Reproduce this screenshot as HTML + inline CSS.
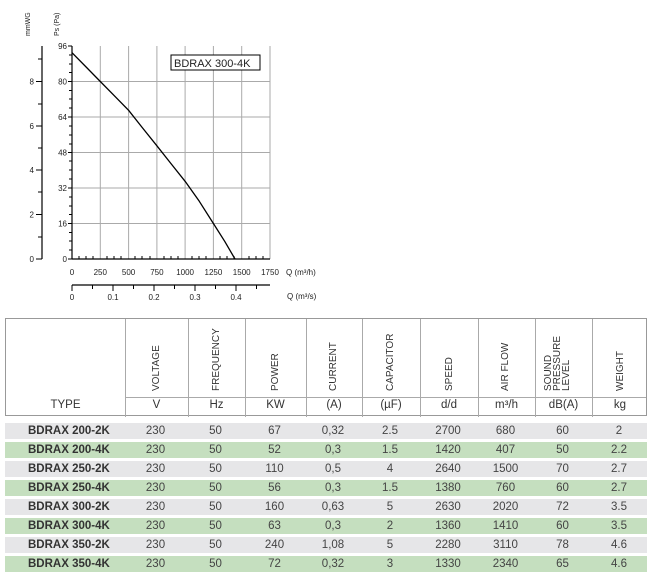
<!DOCTYPE html>
<html><head><style>
body{margin:0;width:652px;height:576px;background:#fff;position:relative;font-family:"Liberation Sans",sans-serif;overflow:hidden}
.tbl{position:absolute;left:5px;top:318px;width:642px;height:98px;border:1px solid #999;box-sizing:border-box}
.vl{position:absolute;top:0;height:98px;border-left:1px solid #aaa}
.hl{position:absolute;left:120px;right:0;top:78px;border-top:1px solid #aaa}
.vt{position:absolute;font-size:10px;color:#333;transform:rotate(-90deg);transform-origin:0 0;white-space:nowrap;line-height:10px}
.u{position:absolute;top:80px;font-size:11.5px;color:#333;text-align:center}
.row{position:absolute;left:5px;width:642px;height:16px;font-size:11.5px;color:#444;line-height:16px}
.row span{position:absolute;text-align:center}
.g{background:#e6e6e8}.gr{background:#c5dfbf}
</style></head><body>
<svg width="652" height="310" style="position:absolute;left:0;top:0" font-family="Liberation Sans" font-size="8" fill="#222">
<g stroke="#aaa" stroke-width="1">
<line x1="100.3" y1="46" x2="100.3" y2="259"/><line x1="128.6" y1="46" x2="128.6" y2="259"/><line x1="156.9" y1="46" x2="156.9" y2="259"/><line x1="185.1" y1="46" x2="185.1" y2="259"/><line x1="213.4" y1="46" x2="213.4" y2="259"/><line x1="241.7" y1="46" x2="241.7" y2="259"/><line x1="270" y1="46" x2="270" y2="259"/>
<line x1="72" y1="81.5" x2="270" y2="81.5"/><line x1="72" y1="117" x2="270" y2="117"/><line x1="72" y1="152.5" x2="270" y2="152.5"/><line x1="72" y1="188" x2="270" y2="188"/><line x1="72" y1="223.5" x2="270" y2="223.5"/>
</g>
<g stroke="#000" stroke-width="1.2">
<line x1="72" y1="46" x2="72" y2="259"/><line x1="72" y1="259" x2="270" y2="259"/>
<line x1="42" y1="46" x2="42" y2="259"/><line x1="72" y1="285" x2="270" y2="285"/>
</g>
<g stroke="#000" stroke-width="1">
<path d="M68 46h4M68 81.5h4M68 117h4M68 152.5h4M68 188h4M68 223.5h4M68 259h4"/>
<path d="M69 55h3M69 64h3M69 72.5h3M69 90.5h3M69 99h3M69 108h3M69 126h3M69 135h3M69 144h3M69 161h3M69 170h3M69 179h3M69 197h3M69 206h3M69 214.5h3M69 232.5h3M69 241h3M69 250h3"/>
<path d="M36 81.5h6M36 126h6M36 170h6M36 214.5h6M36 259h6M38 59h4M38 104h4M38 148h4M38 192h4M38 237h4"/>
<path d="M79 259v-3M86 259v-3M93 259v-3M107 259v-3M114 259v-3M121 259v-3M135 259v-3M142 259v-3M150 259v-3M164 259v-3M171 259v-3M178 259v-3M192 259v-3M199 259v-3M206 259v-3M220 259v-3M227 259v-3M234 259v-3M249 259v-3M256 259v-3M263 259v-3"/>
<path d="M72 285v6M92.5 285v4M113 285v6M133.5 285v4M154 285v6M174.5 285v4M195 285v6M215.5 285v4M236 285v6M256.5 285v4"/>
</g>
<polyline points="72,52.7 86.1,67 100.3,81.5 114.4,95.8 128.6,110.3 142.7,128.1 156.9,145.8 171,163.6 185.1,181.3 199.3,201.3 213.4,223.5 224.7,241.3 235,259" fill="none" stroke="#000" stroke-width="1.3" stroke-linejoin="round"/>
<rect x="171" y="55" width="89" height="15" fill="#fff" stroke="#000"/>
<text x="174" y="67" font-size="11">BDRAX 300-4K</text>
<g text-anchor="end">
<text x="67" y="49">96</text><text x="67" y="84.5">80</text><text x="67" y="120">64</text><text x="67" y="155.5">48</text><text x="67" y="191">32</text><text x="67" y="226.5">16</text><text x="67" y="262">0</text>
<text x="34" y="84.5">8</text><text x="34" y="129">6</text><text x="34" y="173">4</text><text x="34" y="217.5">2</text><text x="34" y="262">0</text>
</g>
<g text-anchor="middle">
<text x="72" y="275">0</text><text x="100.3" y="275">250</text><text x="128.6" y="275">500</text><text x="156.9" y="275">750</text><text x="185.1" y="275">1000</text><text x="213.4" y="275">1250</text><text x="241.7" y="275">1500</text><text x="270" y="275">1750</text>
<text x="72" y="300">0</text><text x="113" y="300">0.1</text><text x="154" y="300">0.2</text><text x="195" y="300">0.3</text><text x="236" y="300">0.4</text>
</g>
<text x="286" y="275">Q (m³/h)</text><text x="287" y="299">Q (m³/s)</text>
<text transform="translate(30,36) rotate(-90)" font-size="7">mmWG</text>
<text transform="translate(59,36) rotate(-90)" font-size="7">Ps (Pa)</text>
</svg>

<div class="tbl">
<div class="vl" style="left:119px"></div><div class="vl" style="left:182px"></div><div class="vl" style="left:239px"></div><div class="vl" style="left:300px"></div><div class="vl" style="left:356px"></div><div class="vl" style="left:414px"></div><div class="vl" style="left:472px"></div><div class="vl" style="left:529px"></div><div class="vl" style="left:586px"></div>
<div class="hl"></div>
<div class="vt" style="left:146px;top:72px">VOLTAGE</div>
<div class="vt" style="left:206px;top:72px">FREQUENCY</div>
<div class="vt" style="left:265px;top:72px">POWER</div>
<div class="vt" style="left:323px;top:72px">CURRENT</div>
<div class="vt" style="left:380px;top:72px">CAPACITOR</div>
<div class="vt" style="left:439px;top:72px">SPEED</div>
<div class="vt" style="left:495px;top:72px">AIR FLOW</div>
<div class="vt" style="left:538px;top:72px;line-height:9px;font-size:10px">SOUND<br>PRESSURE<br>LEVEL</div>
<div class="vt" style="left:610px;top:72px">WEIGHT</div>
<div class="u" style="left:0;width:119px">TYPE</div>
<div class="u" style="left:119px;width:63px">V</div>
<div class="u" style="left:182px;width:57px">Hz</div>
<div class="u" style="left:239px;width:61px">KW</div>
<div class="u" style="left:300px;width:56px">(A)</div>
<div class="u" style="left:356px;width:58px">(µF)</div>
<div class="u" style="left:414px;width:58px">d/d</div>
<div class="u" style="left:472px;width:57px">m³/h</div>
<div class="u" style="left:529px;width:57px">dB(A)</div>
<div class="u" style="left:586px;width:56px">kg</div>
</div>

<div class="row g" style="top:423px"><span style="left:23px;font-weight:bold;color:#333">BDRAX 200-2K</span><span style="left:119px;width:63px">230</span><span style="left:182px;width:57px">50</span><span style="left:239px;width:61px">67</span><span style="left:300px;width:56px">0,32</span><span style="left:356px;width:58px">2.5</span><span style="left:414px;width:58px">2700</span><span style="left:472px;width:57px">680</span><span style="left:529px;width:57px">60</span><span style="left:586px;width:56px">2</span></div>
<div class="row gr" style="top:442px"><span style="left:23px;font-weight:bold;color:#333">BDRAX 200-4K</span><span style="left:119px;width:63px">230</span><span style="left:182px;width:57px">50</span><span style="left:239px;width:61px">52</span><span style="left:300px;width:56px">0,3</span><span style="left:356px;width:58px">1.5</span><span style="left:414px;width:58px">1420</span><span style="left:472px;width:57px">407</span><span style="left:529px;width:57px">50</span><span style="left:586px;width:56px">2.2</span></div>
<div class="row g" style="top:461px"><span style="left:23px;font-weight:bold;color:#333">BDRAX 250-2K</span><span style="left:119px;width:63px">230</span><span style="left:182px;width:57px">50</span><span style="left:239px;width:61px">110</span><span style="left:300px;width:56px">0,5</span><span style="left:356px;width:58px">4</span><span style="left:414px;width:58px">2640</span><span style="left:472px;width:57px">1500</span><span style="left:529px;width:57px">70</span><span style="left:586px;width:56px">2.7</span></div>
<div class="row gr" style="top:480px"><span style="left:23px;font-weight:bold;color:#333">BDRAX 250-4K</span><span style="left:119px;width:63px">230</span><span style="left:182px;width:57px">50</span><span style="left:239px;width:61px">56</span><span style="left:300px;width:56px">0,3</span><span style="left:356px;width:58px">1.5</span><span style="left:414px;width:58px">1380</span><span style="left:472px;width:57px">760</span><span style="left:529px;width:57px">60</span><span style="left:586px;width:56px">2.7</span></div>
<div class="row g" style="top:499px"><span style="left:23px;font-weight:bold;color:#333">BDRAX 300-2K</span><span style="left:119px;width:63px">230</span><span style="left:182px;width:57px">50</span><span style="left:239px;width:61px">160</span><span style="left:300px;width:56px">0,63</span><span style="left:356px;width:58px">5</span><span style="left:414px;width:58px">2630</span><span style="left:472px;width:57px">2020</span><span style="left:529px;width:57px">72</span><span style="left:586px;width:56px">3.5</span></div>
<div class="row gr" style="top:518px"><span style="left:23px;font-weight:bold;color:#333">BDRAX 300-4K</span><span style="left:119px;width:63px">230</span><span style="left:182px;width:57px">50</span><span style="left:239px;width:61px">63</span><span style="left:300px;width:56px">0,3</span><span style="left:356px;width:58px">2</span><span style="left:414px;width:58px">1360</span><span style="left:472px;width:57px">1410</span><span style="left:529px;width:57px">60</span><span style="left:586px;width:56px">3.5</span></div>
<div class="row g" style="top:537px"><span style="left:23px;font-weight:bold;color:#333">BDRAX 350-2K</span><span style="left:119px;width:63px">230</span><span style="left:182px;width:57px">50</span><span style="left:239px;width:61px">240</span><span style="left:300px;width:56px">1,08</span><span style="left:356px;width:58px">5</span><span style="left:414px;width:58px">2280</span><span style="left:472px;width:57px">3110</span><span style="left:529px;width:57px">78</span><span style="left:586px;width:56px">4.6</span></div>
<div class="row gr" style="top:556px"><span style="left:23px;font-weight:bold;color:#333">BDRAX 350-4K</span><span style="left:119px;width:63px">230</span><span style="left:182px;width:57px">50</span><span style="left:239px;width:61px">72</span><span style="left:300px;width:56px">0,32</span><span style="left:356px;width:58px">3</span><span style="left:414px;width:58px">1330</span><span style="left:472px;width:57px">2340</span><span style="left:529px;width:57px">65</span><span style="left:586px;width:56px">4.6</span></div>
</body></html>
